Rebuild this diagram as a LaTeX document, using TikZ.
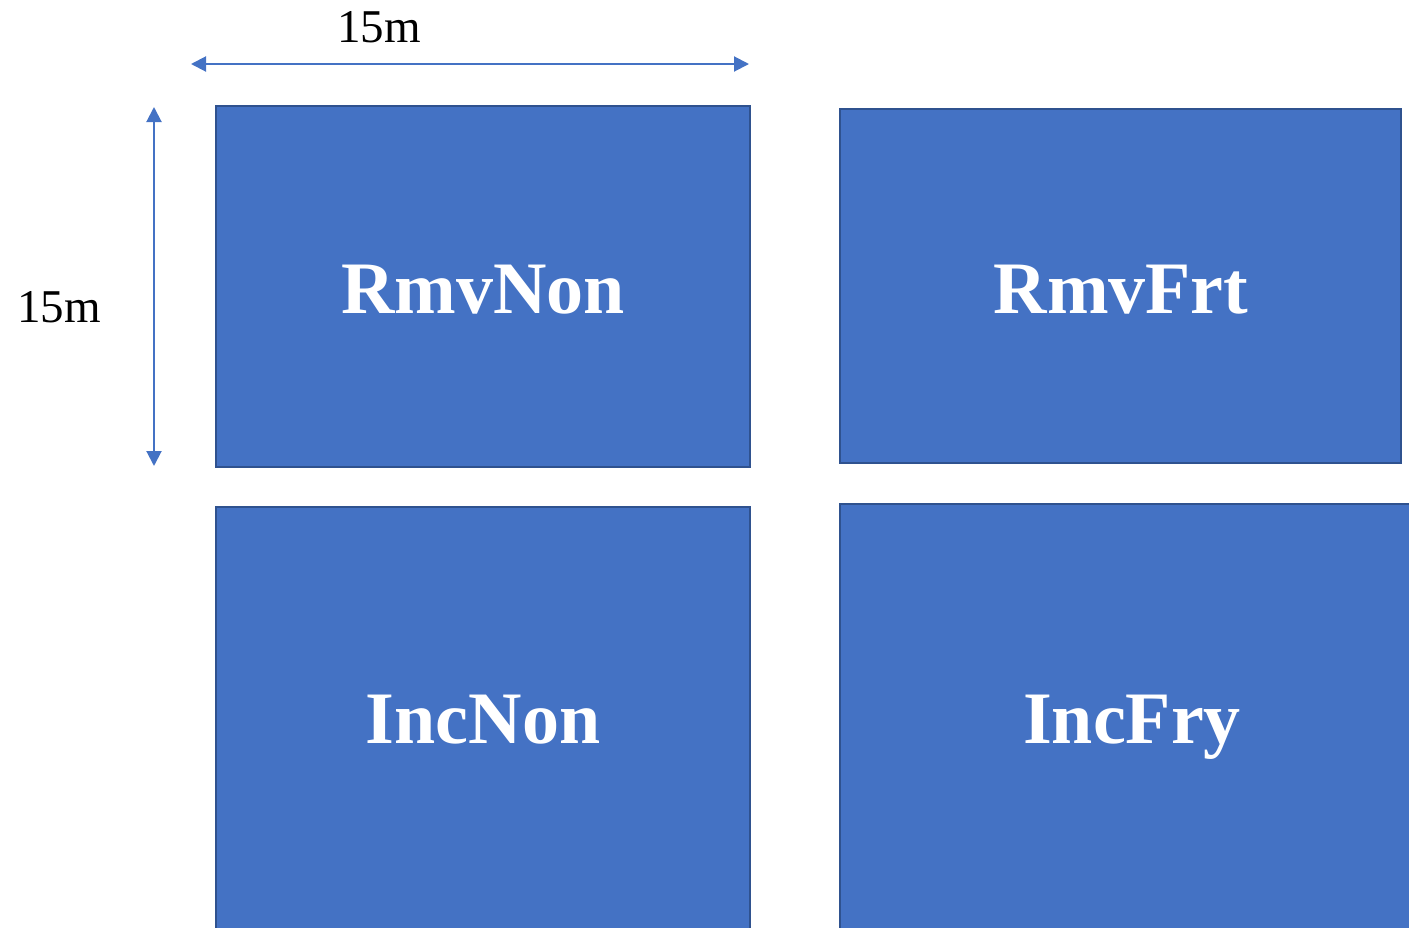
\documentclass[tikz,border=0pt]{standalone}
\usepackage{fontspec}
\setmainfont{Liberation Serif}
\usetikzlibrary{arrows.meta}
\definecolor{plotblue}{HTML}{4472C4}
\definecolor{plotedge}{HTML}{2F528F}
\tikzset{
  plot/.style={draw=plotedge, fill=plotblue, line width=2.2pt},
  plotname/.style={text=white, font=\fontsize{74}{74}\selectfont\bfseries, anchor=base, inner sep=0pt},
  dimtext/.style={text=black, font=\fontsize{47}{47}\selectfont, anchor=base, inner sep=0pt},
  dimline/.style={draw=plotblue, line width=2pt, {Triangle[length=15pt,width=15pt]}-{Triangle[length=15pt,width=15pt]}}
}
\begin{document}
\begin{tikzpicture}[x=1pt,y=-1pt]
  \useasboundingbox (0,0) rectangle (1409,927);
  % experimental plots
  \path[plot] (216,106) rectangle (750,467);
  \path[plot] (840,109) rectangle (1401,463);
  \path[plot] (216,507) rectangle (750,940);
  \path[plot] (840,504) rectangle (1425,940);
  \node[plotname] (rmvnon) at (483,313) {RmvNon};
  \node[plotname] (rmvfrt) at (1121,313) {RmvFrt};
  \node[plotname] (incnon) at (483,743) {IncNon};
  \node[plotname] (incfry) at (1132,743) {IncFry};
  % plot dimensions
  \coordinate (hl) at (191,64);
  \coordinate (hr) at (749,64);
  \coordinate (vt) at (154,107);
  \coordinate (vb) at (154,466);
  \draw[dimline] (hl) -- (hr);
  \draw[dimline] (vt) -- (vb);
  \node[dimtext] (wlabel) at (379,42) {15m};
  \node[dimtext] (hlabel) at (59,322) {15m};
\end{tikzpicture}
\end{document}
